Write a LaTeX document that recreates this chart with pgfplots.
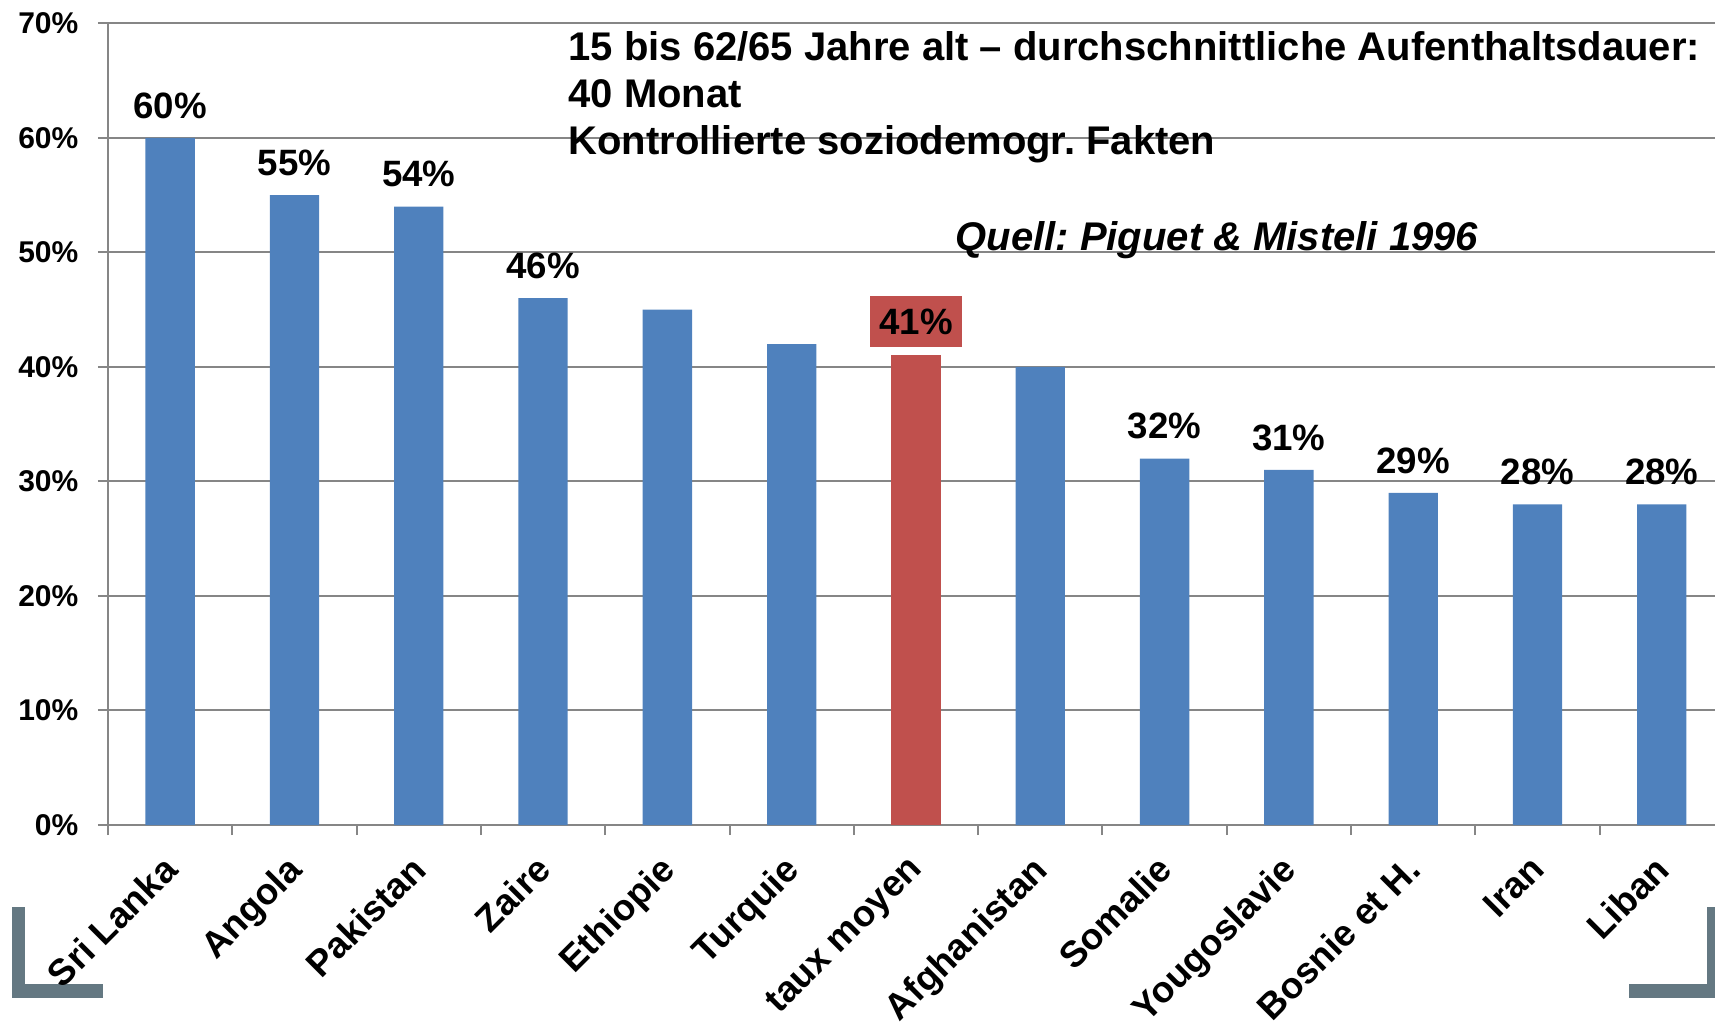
\documentclass[border=0pt]{standalone}
\usepackage{fontspec}
\setmainfont{Liberation Sans}
\usepackage{pgfplots}
\pgfplotsset{compat=1.18}
\definecolor{barblue}{RGB}{79,129,189}
\definecolor{barred}{RGB}{192,80,77}
\definecolor{deco}{RGB}{100,120,130}
\definecolor{gridgray}{RGB}{134,134,134}
\frenchspacing
\begin{document}
\begin{tikzpicture}
\begin{scope}[x=0.3pt,y=-0.3pt]
\fill[deco] (12,907) rectangle (25,998);
\fill[deco] (12,984) rectangle (103,998);
\fill[deco] (1629,984) rectangle (1715,998);
\fill[deco] (1707,907) rectangle (1715,998);
\end{scope}
\begin{axis}[
  at={(32.4pt,-247.5pt)}, anchor=south west,
  scale only axis, width=482.1pt, height=240.5pt,
  xmin=-0.5, xmax=12.428, ymin=0, ymax=70,
  axis lines=left,
  axis line style={-, draw=gridgray, line width=0.75pt},
  ytick={0,10,...,70},
  yticklabel={\pgfmathprintnumber{\tick}\%},
  /pgf/number format/assume math mode=true,
  ymajorgrids, grid style={draw=gridgray, line width=0.6pt},
  xtick={0,...,12},
  xticklabels={Sri Lanka, Angola, Pakistan, Zaire, Ethiopie, Turquie, taux moyen, Afghanistan, Somalie, Yougoslavie, Bosnie et H., Iran, Liban},
  major tick length=0pt,
  minor tick length=3pt,
  minor xtick={-0.5,0.5,...,11.5},
  minor ytick={0,10,...,70},
  tick align=outside,
  tick style={draw=gridgray, line width=0.6pt},
  yticklabel style={font=\bfseries\fontsize{9}{10}\selectfont, anchor=east, inner sep=0pt, xshift=-8.7pt},
  xticklabel style={font=\bfseries\fontsize{11}{13}\selectfont, xshift=-2.8pt, yshift=-8.3pt, rotate=45, anchor=north east, inner sep=0pt},
  ybar, bar width=14.8pt, bar shift=0pt,
  clip=false,
]
\addplot[fill=barblue, draw=none,
  nodes near coords={\pgfmathprintnumber{\pgfplotspointmeta}\%},
  nodes near coords style={font=\bfseries\fontsize{11}{13}\selectfont, anchor=south, inner sep=0pt, text depth=0pt, yshift=5.7pt, /pgf/number format/assume math mode=true}]
  coordinates {(0,60) (1,55) (2,54) (3,46) (8,32) (9,31) (10,29) (11,28) (12,28)};
\addplot[fill=barblue, draw=none]
  coordinates {(4,45) (5,42) (7,40)};
\addplot[fill=barred, draw=none,
  nodes near coords={\pgfmathprintnumber{\pgfplotspointmeta}\%},
  nodes near coords style={font=\bfseries\fontsize{11}{13}\selectfont, anchor=south, fill=barred, inner xsep=2.65pt, inner ysep=3.7pt, text height=7.9pt, text depth=0pt, yshift=2.4pt, /pgf/number format/assume math mode=true}]
  coordinates {(6,41)};
\end{axis}
\begin{scope}[x=0.3pt,y=-0.3pt]
\node[anchor=base west, inner sep=0pt, font=\bfseries\fontsize{12}{14}\selectfont] at (568,60) {15 bis 62/65 Jahre alt – durchschnittliche Aufenthaltsdauer:};
\node[anchor=base west, inner sep=0pt, font=\bfseries\fontsize{12}{14}\selectfont] at (568,107) {40 Monat};
\node[anchor=base west, inner sep=0pt, font=\bfseries\fontsize{12}{14}\selectfont] at (568,154) {Kontrollierte soziodemogr. Fakten};
\node[anchor=base west, inner sep=0pt, font=\bfseries\itshape\fontsize{12}{14}\selectfont] at (955,250) {Quell: Piguet \& Misteli 1996};
\pgfresetboundingbox
\useasboundingbox (0,0) rectangle (1715,1021);
\end{scope}
\end{tikzpicture}
\end{document}
